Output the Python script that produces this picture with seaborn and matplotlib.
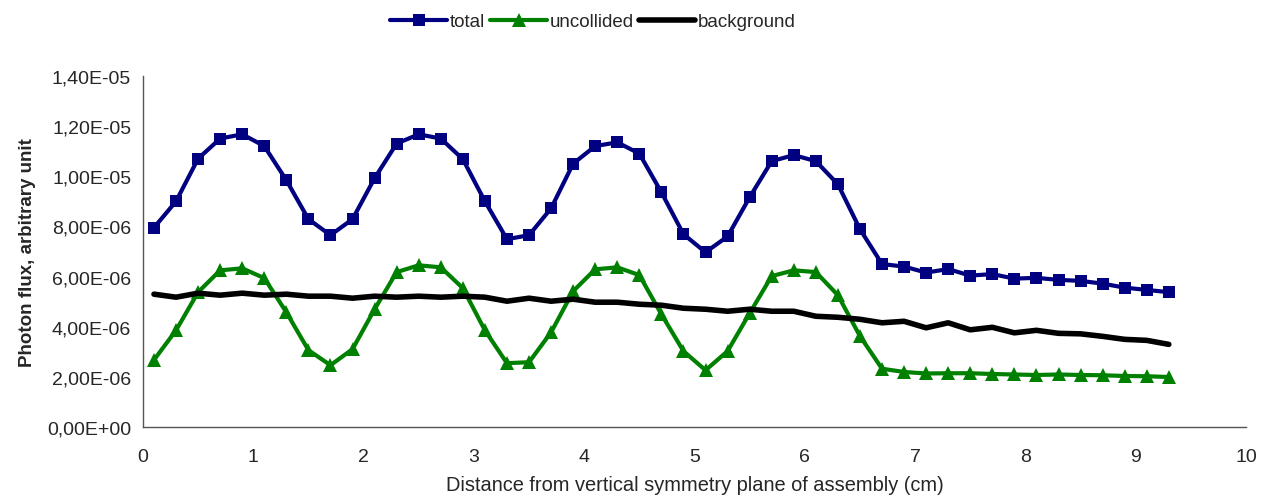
import numpy as np
import pandas as pd
import matplotlib
matplotlib.use("Agg")
import matplotlib.pyplot as plt
import matplotlib.ticker as mticker
import seaborn as sns

# distance from symmetry plane (cm)
distance = [0.1, 0.3, 0.5, 0.7, 0.9, 1.1, 1.3, 1.5, 1.7, 1.9,
            2.1, 2.3, 2.5, 2.7, 2.9, 3.1, 3.3, 3.5, 3.7, 3.9,
            4.1, 4.3, 4.5, 4.7, 4.9, 5.1, 5.3, 5.5, 5.7, 5.9,
            6.1, 6.3, 6.5, 6.7, 6.9, 7.1, 7.3, 7.5, 7.7, 7.9,
            8.1, 8.3, 8.5, 8.7, 8.9, 9.1, 9.3]

# photon flux, units of 1e-6
total = [7.95, 9.0, 10.7, 11.5, 11.67, 11.2, 9.84, 8.29, 7.65, 8.29,
         9.92, 11.3, 11.67, 11.5, 10.68, 9.0, 7.49, 7.65, 8.72, 10.5,
         11.2, 11.35, 10.9, 9.36, 7.69, 6.97, 7.6, 9.16, 10.6, 10.84,
         10.6, 9.68, 7.89, 6.5, 6.4, 6.16, 6.3, 6.04, 6.1, 5.92,
         5.95, 5.87, 5.83, 5.72, 5.56, 5.47, 5.38]
uncollided = [2.68, 3.86, 5.38, 6.25, 6.33, 5.94, 4.58, 3.07, 2.47, 3.11,
              4.7, 6.18, 6.45, 6.37, 5.54, 3.86, 2.55, 2.59, 3.78, 5.42,
              6.29, 6.37, 6.06, 4.5, 3.03, 2.27, 3.03, 4.54, 6.02, 6.25,
              6.18, 5.26, 3.63, 2.33, 2.2, 2.14, 2.15, 2.15, 2.12, 2.1,
              2.08, 2.1, 2.08, 2.07, 2.04, 2.03, 2.0]
background = [5.3, 5.18, 5.34, 5.26, 5.34, 5.26, 5.3, 5.22, 5.22, 5.14,
              5.22, 5.18, 5.22, 5.18, 5.22, 5.18, 5.02, 5.14, 5.02, 5.1,
              4.98, 4.98, 4.9, 4.86, 4.74, 4.7, 4.62, 4.7, 4.62, 4.62,
              4.42, 4.38, 4.3, 4.16, 4.22, 3.96, 4.16, 3.88, 3.98, 3.76,
              3.86, 3.74, 3.72, 3.62, 3.5, 3.46, 3.3]

df = pd.DataFrame({
    "x": distance,
    "total": np.array(total) * 1e-6,
    "uncollided": np.array(uncollided) * 1e-6,
    "background": np.array(background) * 1e-6,
})

sns.set_style("white")
plt.rcParams['font.family'] = ['Liberation Sans', 'DejaVu Sans']

fig = plt.figure(figsize=(12.65, 5.02), dpi=100)
ax = fig.add_axes([0.113, 0.147, 0.872, 0.700])

sns.lineplot(data=df, x="x", y="total", ax=ax, color="#000080", linewidth=3,
             marker="s", markersize=9, markeredgewidth=0, label="total")
sns.lineplot(data=df, x="x", y="uncollided", ax=ax, color="#008000", linewidth=3,
             marker="^", markersize=10, markeredgewidth=0, label="uncollided")
sns.lineplot(data=df, x="x", y="background", ax=ax, color="black", linewidth=4,
             label="background")

ax.set_xlim(0, 10)
ax.set_ylim(0, 1.4e-5)
ax.set_xticks(range(0, 11))
ax.set_yticks(np.arange(0, 1.41e-5, 2e-6))
ax.yaxis.set_major_formatter(mticker.FuncFormatter(
    lambda v, p: ("%.2E" % v).replace(".", ",")))

for s in ["top", "right"]:
    ax.spines[s].set_visible(False)
for s in ["left", "bottom"]:
    ax.spines[s].set_color("#555555")
    ax.spines[s].set_linewidth(1)

ax.tick_params(axis="y", direction="inout", length=11, width=1, color="#333333",
               labelsize=14, pad=3)
ax.tick_params(axis="x", direction="inout", length=12, width=1, color="#333333",
               labelsize=14, pad=9)

ax.set_xlabel("Distance from vertical symmetry plane of assembly (cm)", fontsize=14.4, labelpad=7)
ax.set_ylabel("Photon flux, arbitrary unit", fontsize=13.5, fontweight="bold", labelpad=8)

handles, labels = ax.get_legend_handles_labels()
ax.get_legend().remove()
fig.legend(handles, labels, loc="center", bbox_to_anchor=(0.469, 0.955), ncol=3,
           frameon=False, fontsize=13.5, handlelength=3.0, handletextpad=0.15,
           columnspacing=0.3)

fig.savefig("out.png", dpi=100)
